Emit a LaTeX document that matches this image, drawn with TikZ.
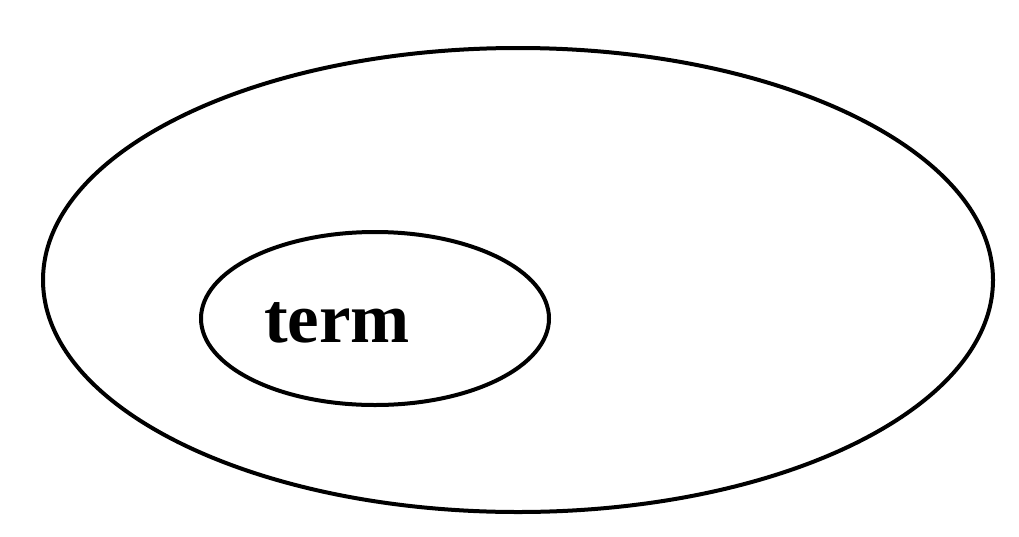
\documentclass[tikz,border=0pt]{standalone}
\usepackage{fontspec}
\setmainfont{Liberation Serif}
\begin{document}
\begin{tikzpicture}[x=1pt,y=-1pt,line width=4pt]
	\useasboundingbox(0,0)rectangle(1019,536);
	\draw(518,280)ellipse[x radius=475,y radius=232];
	\draw(375,318.5)ellipse[x radius=174,y radius=86.5];
	\node[anchor=base west,inner sep=0pt,font=\fontsize{71}{80}\selectfont\bfseries](term)at(262,342){term};
\end{tikzpicture}
\end{document}
